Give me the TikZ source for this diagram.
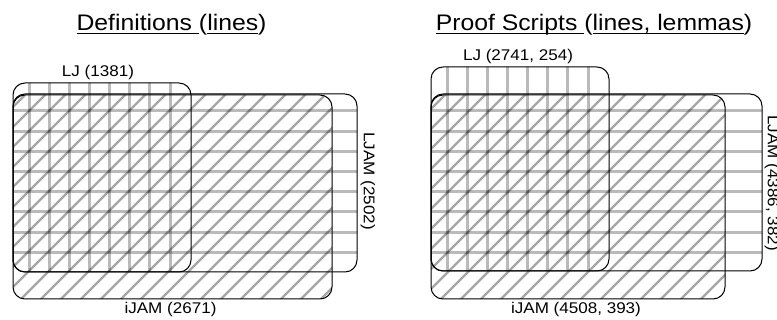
\documentclass[tikz,border=0pt]{standalone}
\usepackage{fontspec}
\setmainfont{Liberation Sans}
\newcommand\hstr[1]{\scalebox{1.1}[1]{#1}}
\newcommand\ulx[1]{\setbox0=\hbox{#1}\rlap{\rule[-3pt]{\wd0}{1.3pt}}\box0}
\tikzset{
  boxshape/.style={inner sep=0pt, outer sep=0pt},
  box/.style={draw=black, line width=1pt, rounded corners=12pt},
  boxclip/.style={rounded corners=12pt},
  vgrid/.style={draw=black, draw opacity=0.27, line width=3pt},
  hgrid/.style={draw=black, draw opacity=0.27, line width=3pt},
  hatch/.style={draw=black, draw opacity=0.35, line width=2.4pt},
  title/.style={font=\fontsize{22.5}{26}\selectfont, anchor=base, inner sep=0pt},
  lab/.style={font=\fontsize{15.5}{18}\selectfont, inner sep=0pt},
}
\begin{document}
\begin{tikzpicture}[x=1pt,y=-1pt]
\useasboundingbox (0,0) rectangle (777,320);
\clip (0,0) rectangle (777,320);

% box shapes (left panel)
\node[boxshape, minimum width=178pt, minimum height=189pt] (ljL) at (102,177.5) {};
\node[boxshape, minimum width=344pt, minimum height=178pt] (ljamL) at (185,183) {};
\node[boxshape, minimum width=319pt, minimum height=204pt] (ijamL) at (172.5,197) {};
% box shapes (right panel)
\node[boxshape, minimum width=178pt, minimum height=204pt] (ljR) at (520,169) {};
\node[boxshape, minimum width=331pt, minimum height=177pt] (ljamR) at (596.5,182.5) {};
\node[boxshape, minimum width=294pt, minimum height=204pt] (ijamR) at (578,197) {};

% diagonal hatching (iJAM)
\foreach \b in {ijamL,ijamR}{
  \begin{scope}
    \clip[boxclip] (\b.north west) rectangle (\b.south east);
    \foreach \a in {-320,-300,...,780} \draw[hatch] (\a,320) -- ++(320,-320);
  \end{scope}
}
% horizontal lines (LJAM)
\foreach \b in {ljamL,ljamR}{
  \begin{scope}
    \clip[boxclip] (\b.north west) rectangle (\b.south east);
    \foreach \i in {0,...,7} \draw[hgrid] (0,{111+20.2*\i}) -- ++(777,0);
  \end{scope}
}
% vertical lines (LJ)
\begin{scope}
  \clip[boxclip] (ljL.north west) rectangle (ljL.south east);
  \foreach \i in {0,...,7} \draw[vgrid] ({29+20.15*\i},50) -- ++(0,240);
\end{scope}
\begin{scope}
  \clip[boxclip] (ljR.north west) rectangle (ljR.south east);
  \foreach \i in {0,...,7} \draw[vgrid] ({447+20.15*\i},50) -- ++(0,240);
\end{scope}

% outlines
\foreach \b in {ljamL,ljL,ijamL,ljamR,ljR,ijamR}
  \draw[box] (\b.north west) rectangle (\b.south east);

% titles
\node[title] (titleL) at (171.5,31) {\hstr{\ulx{Definitions }(\ulx{lines})}};
\node[title] (titleR) at (594,31) {\hstr{\ulx{Proof Scripts }(\ulx{lines, lemmas})}};

% labels
\node[lab, anchor=base] (ljLlab) at (98,76.5) {\hstr{LJ (1381)}};
\node[lab, anchor=base] (ijamLlab) at (170.5,314) {\hstr{iJAM (2671)}};
\node[lab, rotate=-90] (ljamLlab) at (368,181) {\hstr{LJAM (2502)}};
\node[lab, anchor=base] (ljRlab) at (518,61) {\hstr{LJ (2741, 254)}};
\node[lab, anchor=base] (ijamRlab) at (576,314) {\hstr{iJAM (4508, 393)}};
\node[lab, rotate=-90] (ljamRlab) at (772,183) {\hstr{LJAM (4386, 382)}};
\end{tikzpicture}
\end{document}
